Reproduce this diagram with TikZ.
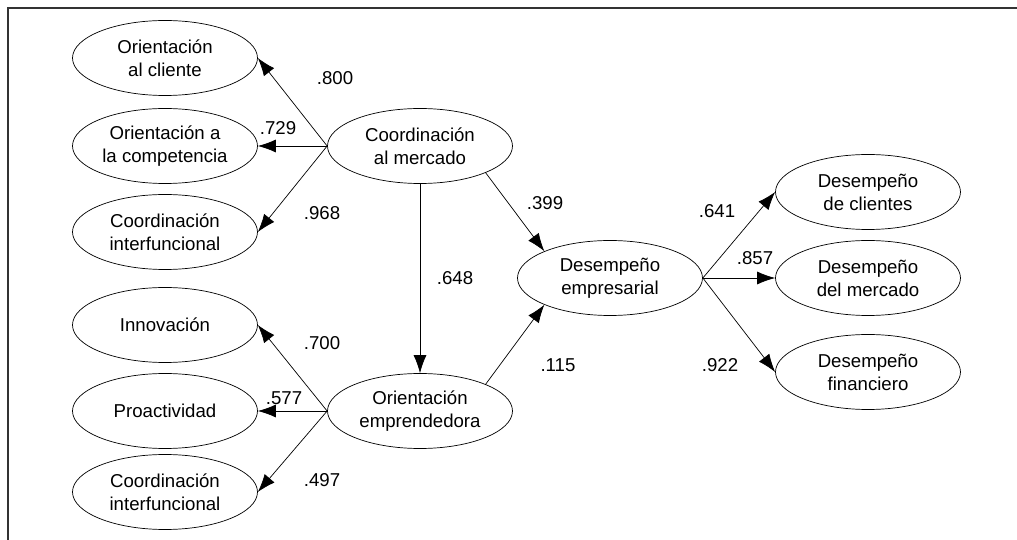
\documentclass[tikz,border=0pt]{standalone}
\usepackage{fontspec}
\setmainfont{Liberation Sans}
\usetikzlibrary{shapes.geometric, arrows.meta}

\begin{document}
\begin{tikzpicture}[>={Latex[length=3.6mm,width=2.6mm]},
latent/.style={ellipse, draw, thin, minimum width=3.7cm, minimum height=1.5cm, inner sep=0pt, align=center, font=\fontsize{10.6}{13}\selectfont},
load/.style={->, thin},
coef/.style={font=\fontsize{10.6}{13}\selectfont}]
\useasboundingbox (0,0) rectangle (20.34,-10.8);

%Frame
\draw[line width=1.2pt, black!80] (20.34,-0.16) -- (0.16,-0.16) -- (0.16,-10.8);

%Market coordination
\node [latent] at (8.4,-2.92) (cm) {Coordinación\\al mercado};
\node [latent] at (3.3,-1.16) (oc) {Orientación\\al cliente};
\node [latent] at (3.3,-2.92) (ocomp) {Orientación a\\la competencia};
\node [latent] at (3.3,-4.64) (ci1) {Coordinación\\interfuncional};
\draw[load] (cm.west) -- (oc.east);
\draw[load] (cm.west) -- (ocomp.east);
\draw[load] (cm.west) -- (ci1.east);
\node [coef] at (6.7,-1.56) {.800};
\node [coef] at (5.56,-2.56) {.729};
\node [coef] at (6.44,-4.26) {.968};

%Entrepreneurial orientation
\node [latent] at (8.4,-8.22) (oe) {Orientación\\emprendedora};
\node [latent] at (3.3,-6.5) (inn) {Innovación};
\node [latent] at (3.3,-8.22) (pro) {Proactividad};
\node [latent] at (3.3,-9.84) (ci2) {Coordinación\\interfuncional};
\draw[load] (oe.west) -- (inn.east);
\draw[load] (oe.west) -- (pro.east);
\draw[load] (oe.west) -- (ci2.east);
\node [coef] at (6.44,-6.86) {.700};
\node [coef] at (5.68,-7.96) {.577};
\node [coef] at (6.44,-9.6) {.497};

%Business performance
\node [latent] at (12.2,-5.56) (de) {Desempeño\\empresarial};
\node [latent] at (17.36,-3.84) (dc) {Desempeño\\de clientes};
\node [latent] at (17.36,-5.56) (dm) {Desempeño\\del mercado};
\node [latent] at (17.36,-7.44) (df) {Desempeño\\financiero};
\draw[load] (de.east) -- (dc.west);
\draw[load] (de.east) -- (dm.west);
\draw[load] (de.east) -- (df.west);
\node [coef] at (14.34,-4.22) {.641};
\node [coef] at (15.1,-5.16) {.857};
\node [coef] at (14.4,-7.3) {.922};

%Structural paths
\draw[load] (cm.south) -- (oe.north);
\draw[load] (cm.south east) -- (de.north west);
\draw[load] (oe.north east) -- (de.south west);
\node [coef] at (9.1,-5.56) {.648};
\node [coef] at (10.9,-4.06) {.399};
\node [coef] at (11.16,-7.3) {.115};
\end{tikzpicture}
\end{document}
